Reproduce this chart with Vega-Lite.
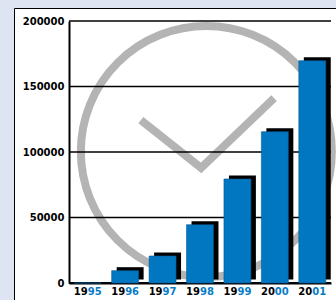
{
  "$schema": "https://vega.github.io/schema/vega-lite/v6.json",
  "autosize": "none",
  "padding": {"left": 14, "top": 8, "right": 0, "bottom": 0},
  "width": 340,
  "height": 300,
  "background": "#dfe4f3",
  "view": {"fill": "white", "stroke": "black", "strokeWidth": 1},
  "config": {
    "font": "DejaVu Sans",
    "axis": {"labelFont": "DejaVu Sans", "labelFontWeight": "bold", "labelFontSize": 10, "ticks": false, "tickSize": 0, "grid": false, "domainColor": "black", "domainWidth": 2, "labelOverlap": false}
  },
  "datasets": {
    "sales": [
      {"year": "1995", "value": 0},
      {"year": "1996", "value": 9400},
      {"year": "1997", "value": 20600},
      {"year": "1998", "value": 44500},
      {"year": "1999", "value": 79400},
      {"year": "2000", "value": 115500},
      {"year": "2001", "value": 169700}
    ],
    "ring": [{"wx": 3.67, "wy": 100400}],
    "check": [
      {"order": 1, "wx": 1.92, "wy": 124400},
      {"order": 2, "wx": 3.53, "wy": 87800},
      {"order": 3, "wx": 5.48, "wy": 141200}
    ],
    "grid": [
      {"gy": 0, "gx": 0, "gx2": 7, "w": "base"},
      {"gy": 50000, "gx": 0, "gx2": 7, "w": "grid"},
      {"gy": 100000, "gx": 0, "gx2": 7, "w": "grid"},
      {"gy": 150000, "gx": 0, "gx2": 7, "w": "grid"},
      {"gy": 200000, "gx": 0, "gx2": 7, "w": "grid"}
    ]
  },
  "resolve": {"scale": {"x": "independent"}, "axis": {"x": "independent"}},
  "layer": [
    {
      "data": {"name": "ring"},
      "mark": {"type": "point", "shape": "circle", "filled": false, "stroke": "#b4b4b4", "strokeWidth": 8, "size": 63000, "opacity": 1},
      "encoding": {
        "x": {"field": "wx", "type": "quantitative", "scale": {"domain": [0, 7], "range": [55, 317], "nice": false, "zero": false}, "axis": null},
        "y": {"field": "wy", "type": "quantitative", "scale": {"domain": [0, 200000], "range": [275, 13], "nice": false},
          "axis": {"orient": "left", "title": null, "format": "d", "values": [0, 50000, 100000, 150000, 200000], "offset": -55, "labelPadding": 5, "labelColor": "black", "domain": true}}
      }
    },
    {
      "data": {"name": "check"},
      "mark": {"type": "line", "stroke": "#b4b4b4", "strokeWidth": 8, "strokeCap": "butt", "strokeJoin": "miter"},
      "encoding": {
        "x": {"field": "wx", "type": "quantitative", "scale": {"domain": [0, 7], "range": [55, 317], "nice": false, "zero": false}, "axis": null},
        "y": {"field": "wy", "type": "quantitative",
          "axis": {"orient": "left", "title": null, "format": "d", "values": [0, 50000, 100000, 150000, 200000], "offset": -55, "labelPadding": 5, "labelColor": "black", "domain": true}},
        "order": {"field": "order"}
      }
    },
    {
      "data": {"name": "grid"},
      "mark": {"type": "rule", "stroke": "black"},
      "encoding": {
        "x": {"field": "gx", "type": "quantitative", "scale": {"domain": [0, 7], "range": [55, 317], "nice": false, "zero": false}, "axis": null},
        "x2": {"field": "gx2"},
        "y": {"field": "gy", "type": "quantitative",
          "axis": {"orient": "left", "title": null, "format": "d", "values": [0, 50000, 100000, 150000, 200000], "offset": -55, "labelPadding": 5, "labelColor": "black", "domain": true}},
        "strokeWidth": {"field": "w", "type": "nominal", "scale": {"domain": ["base", "grid"], "range": [2, 1.5]}, "legend": null}
      }
    },
    {
      "data": {"name": "sales"},
      "mark": {"type": "bar", "fill": "black", "xOffset": 5, "yOffset": -3.5},
      "encoding": {
        "x": {"field": "year", "type": "ordinal", "scale": {"range": [55, 317], "paddingInner": 0.28, "paddingOuter": 0.14},
          "axis": {"orient": "bottom", "title": null, "labelExpr": "substring(datum.label, 2, 4)", "labelAlign": "left", "labelColor": "#0a7cc6", "offset": -25, "labelPadding": 3, "labelAngle": 0, "domain": false}},
        "y": {"field": "value", "type": "quantitative",
          "axis": {"orient": "left", "title": null, "format": "d", "values": [0, 50000, 100000, 150000, 200000], "offset": -55, "labelPadding": 5, "labelColor": "black", "domain": true}}
      }
    },
    {
      "data": {"name": "sales"},
      "mark": {"type": "bar", "fill": "#0077c0", "stroke": "#0a5a95", "strokeWidth": 0.6},
      "encoding": {
        "x": {"field": "year", "type": "ordinal", "scale": {"range": [55, 317], "paddingInner": 0.28, "paddingOuter": 0.14},
          "axis": {"orient": "bottom", "title": null, "labelExpr": "substring(datum.label, 0, 2)", "labelAlign": "right", "labelColor": "black", "offset": -25, "labelPadding": 3, "labelAngle": 0, "domain": true}},
        "y": {"field": "value", "type": "quantitative",
          "axis": {"orient": "left", "title": null, "format": "d", "values": [0, 50000, 100000, 150000, 200000], "offset": -55, "labelPadding": 5, "labelColor": "black", "domain": true}}
      }
    }
  ]
}
